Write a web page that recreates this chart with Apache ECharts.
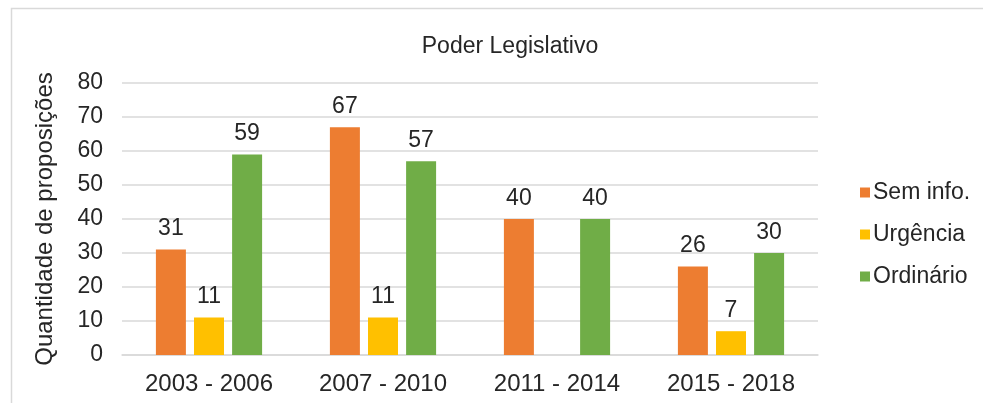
<!DOCTYPE html>
<html>
<head>
<meta charset="utf-8">
<script src="https://cdn.jsdelivr.net/npm/echarts@6/dist/echarts.min.js"></script>
<style>
  html, body { margin: 0; padding: 0; background: #fff; }
  #chart { width: 983px; height: 403px; }
</style>
</head>
<body>
<div id="chart"></div>
<script>
const periods = ['2003 - 2006', '2007 - 2010', '2011 - 2014', '2015 - 2018']
const semInfo = [31, 67, 40, 26]
const urgencia = [11, 11, null, 7]
const ordinario = [59, 57, 40, 30]
const seriesNames = ['Sem info.', 'Urgência', 'Ordinário']

const font = 'Liberation Sans, Arial, sans-serif'
const fs = 24

const chart = echarts.init(document.getElementById('chart'))

const seriesLabel = {
  show: true,
  position: 'top',
  distance: 9,
  fontFamily: font,
  fontSize: fs - 1,
  color: '#262626'
}

function bar(name, data) {
  return {
    name: name,
    type: 'bar',
    data: data,
    barWidth: 30,
    barGap: '27%',
    label: seriesLabel,
    animation: false
  }
}

chart.setOption({
  color: ['#ed7d31', '#ffc000', '#70ad47'],
  textStyle: { fontFamily: font },
  title: {
    text: 'Poder Legislativo',
    left: 505,
    textAlign: 'center',
    top: 30,
    textStyle: { fontFamily: font, fontSize: 23, fontWeight: 'normal', color: '#262626' }
  },
  graphic: [{
    type: 'rect',
    shape: { x: 11.5, y: 8.5, width: 1000, height: 420 },
    style: { fill: 'none', stroke: '#d9d9d9', lineWidth: 1.5 }
  }],
  legend: {
    orient: 'vertical',
    left: 855,
    top: 176,
    itemWidth: 10,
    itemHeight: 10,
    itemGap: 19,
    icon: 'rect',
    textStyle: { fontFamily: font, fontSize: fs - 1, color: '#262626', padding: [0, 0, 0, -2] },
    data: seriesNames
  },
  grid: { left: 122, right: 165, top: 83, bottom: 48 },
  xAxis: {
    type: 'category',
    data: periods,
    axisTick: { show: false },
    axisLine: { lineStyle: { color: '#d9d9d9', width: 1.5 } },
    axisLabel: { fontFamily: font, fontSize: fs, color: '#262626', margin: 17 }
  },
  yAxis: {
    type: 'value',
    min: 0,
    max: 80,
    interval: 10,
    name: 'Quantidade de proposições',
    nameLocation: 'middle',
    nameGap: 65,
    nameTextStyle: { fontFamily: font, fontSize: fs, color: '#262626' },
    axisLabel: { fontFamily: font, fontSize: fs - 1, color: '#262626', margin: 19 },
    splitLine: { lineStyle: { color: '#d9d9d9', width: 1.5 } }
  },
  series: [
    bar(seriesNames[0], semInfo),
    bar(seriesNames[1], urgencia),
    bar(seriesNames[2], ordinario)
  ]
})
</script>
</body>
</html>
